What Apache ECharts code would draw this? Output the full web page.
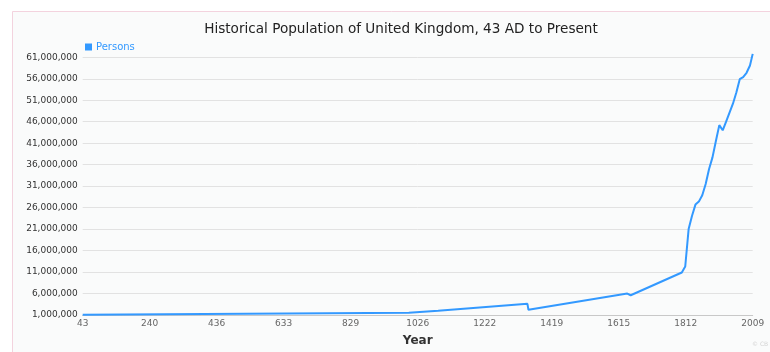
<!DOCTYPE html>
<html>
<head>
<meta charset="utf-8">
<style>
  html, body { margin: 0; padding: 0; background: #ffffff; }
  #chart { width: 770px; height: 352px; }
</style>
<script src="https://cdn.jsdelivr.net/npm/echarts@6/dist/echarts.min.js"></script>
</head>
<body>
<div id="chart"></div>
<script>
// Population of the United Kingdom (and its predecessor territories) by year
const years = [43, 1000, 1086, 1348, 1351, 1641, 1651, 1801, 1811, 1821, 1831, 1841, 1851,
  1861, 1871, 1881, 1891, 1901, 1911, 1921, 1931, 1951, 1961, 1971, 1981, 1991, 2001, 2009];
const persons = [1050000, 1500000, 2000000, 3600000, 2200000, 6000000, 5600000, 10900000,
  12300000, 21000000, 24100000, 26700000, 27400000, 28900000, 31500000, 35000000,
  37700000, 41500000, 45200000, 44000000, 46000000, 50200000, 52800000, 55900000,
  56400000, 57400000, 59100000, 61800000];

// Axis tick labels
const yearTicks = ['43', '240', '436', '633', '829', '1026', '1222', '1419', '1615', '1812', '2009'];
const personTicks = ['1,000,000', '6,000,000', '11,000,000', '16,000,000', '21,000,000',
  '26,000,000', '31,000,000', '36,000,000', '41,000,000', '46,000,000', '51,000,000',
  '56,000,000', '61,000,000'];

// Axes start at the first year / first tick value; values are plotted relative to those origins
const yearOrigin = Number(yearTicks[0]);
const yearEnd = Number(yearTicks[yearTicks.length - 1]);
const yearStep = (yearEnd - yearOrigin) / (yearTicks.length - 1);
const personOrigin = 1000000;
const personStep = 5000000;
const personSpan = personStep * (personTicks.length - 1);

const seriesData = years.map((y, i) => [y - yearOrigin, persons[i] - personOrigin]);

const chart = echarts.init(document.getElementById('chart'), null, { renderer: 'canvas' });

const font = 'DejaVu Sans, Verdana, sans-serif';

chart.setOption({
  animation: false,
  backgroundColor: '#ffffff',
  graphic: [
    {
      type: 'rect',
      z: -10,
      shape: { x: 12.5, y: 11.5, width: 800, height: 400 },
      style: { fill: '#fafbfb', stroke: '#f3d3de', lineWidth: 1 }
    },
    {
      type: 'text',
      left: 752,
      top: 341,
      style: { text: '© CB', fill: '#d4d4d4', fontSize: 6, fontFamily: font }
    }
  ],
  title: {
    text: 'Historical Population of United Kingdom, 43 AD to Present',
    left: 396,
    textAlign: 'center',
    top: 17,
    textStyle: { fontFamily: font, fontSize: 13.6, fontWeight: 'normal', color: '#222222' }
  },
  legend: {
    left: 80,
    top: 37,
    icon: 'rect',
    itemWidth: 7,
    itemHeight: 7,
    itemGap: 10,
    textStyle: { fontFamily: font, fontSize: 10, color: '#3399ff', padding: [0, 0, 0, -1] },
    data: ['Persons']
  },
  grid: {
    left: 82.7,
    right: 17.3,
    top: 57.3,
    bottom: 36,
    containLabel: false
  },
  xAxis: {
    type: 'value',
    min: 0,
    max: yearEnd - yearOrigin,
    interval: yearStep,
    name: 'Year',
    nameLocation: 'middle',
    nameGap: 20,
    nameTextStyle: { fontFamily: font, fontSize: 12, fontWeight: 'bold', color: '#333333' },
    axisLine: { show: true, lineStyle: { color: '#c8c8c8', width: 1 } },
    axisTick: { show: false },
    splitLine: { show: false },
    axisLabel: {
      margin: 4,
      fontFamily: font,
      fontSize: 9,
      color: '#666666',
      formatter: v => yearTicks[Math.round(v / yearStep)]
    }
  },
  yAxis: {
    type: 'value',
    min: 0,
    max: personSpan,
    interval: personStep,
    axisLine: { show: false },
    axisTick: { show: false },
    splitLine: { show: true, lineStyle: { color: '#e2e2e2', width: 1 } },
    axisLabel: {
      margin: 5,
      fontFamily: font,
      fontSize: 9,
      color: '#333333',
      formatter: v => personTicks[Math.round(v / personStep)]
    }
  },
  series: [{
    name: 'Persons',
    type: 'line',
    data: seriesData,
    clip: false,
    showSymbol: false,
    symbol: 'none',
    color: '#3399ff',
    lineStyle: { color: '#3399ff', width: 2 }
  }]
});
</script>
</body>
</html>
